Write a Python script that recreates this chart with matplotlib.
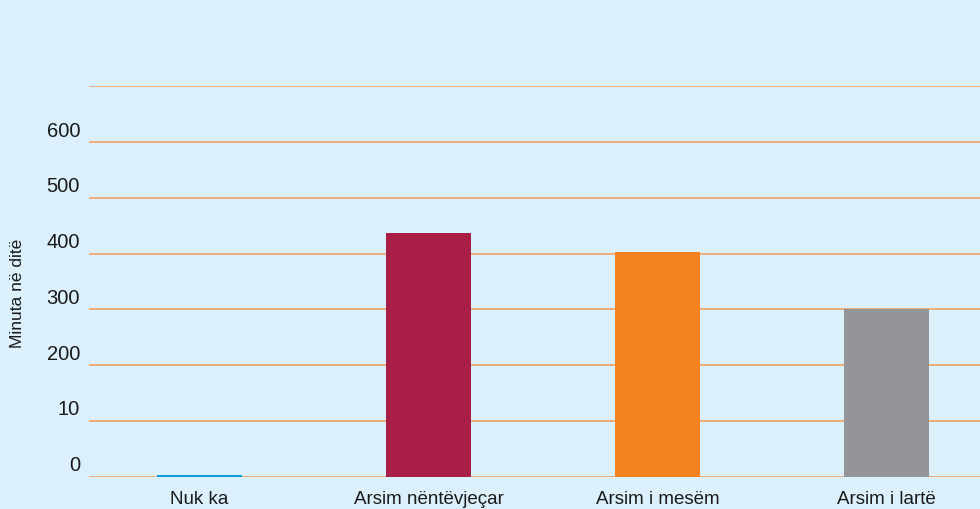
import matplotlib
matplotlib.use("Agg")
import matplotlib.pyplot as plt
from matplotlib import font_manager

categories = ["Nuk ka", "Arsim nëntëvjeçar", "Arsim i mesëm", "Arsim i lartë"]
values = [3.5, 437, 403, 301]
colors = ["#0d9ddb", "#a91e47", "#f58220", "#939598"]
ytick_values = [0, 100, 200, 300, 400, 500, 600, 700]
ytick_labels = ["0", "10", "200", "300", "400", "500", "600", ""]
ylabel = "Minuta në ditë"

names = {f.name for f in font_manager.fontManager.ttflist}
fam = "Liberation Sans Narrow" if "Liberation Sans Narrow" in names else "Liberation Sans"
plt.rcParams["font.family"] = [fam, "DejaVu Sans"]

bg = "#dbf0fb"
fig = plt.figure(figsize=(9.8, 5.09), dpi=100, facecolor=bg)
ax = fig.add_axes([89/980, (509-476.7)/509, 1-89/980, (476.7-86.5)/509])
ax.set_facecolor(bg)

x = list(range(len(categories)))
ax.bar(x, values, width=0.371, color=colors, zorder=3)

ax.set_xlim(-0.483, 3.408)
ax.set_ylim(0, 700)
ax.set_yticks(ytick_values)
ax.set_yticklabels([])
ax.set_xticks(x)
ax.set_xticklabels(categories, fontsize=13.5, color="#1a1a1a")
ax.tick_params(axis="y", length=0)
ax.tick_params(axis="x", length=0, pad=10)
ytrans = ax.get_yaxis_transform()
for v, lab in zip(ytick_values, ytick_labels):
    ax.text(-0.0101, v + 10, lab, transform=ytrans, ha="right", va="baseline",
            fontsize=14.5, color="#1a1a1a", clip_on=False)
ax.yaxis.grid(True, color="#eea86e", linewidth=1.3, zorder=1)
ax.set_axisbelow(True)
for s in ax.spines.values():
    s.set_visible(False)

fig.text(17/980, 1-293/509, ylabel, rotation=90, ha="center", va="center",
         fontsize=12.5, color="#1a1a1a")

fig.savefig("out.png", dpi=100, facecolor=bg)
